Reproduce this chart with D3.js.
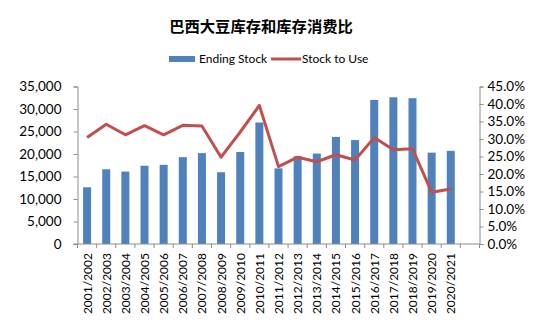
<!DOCTYPE html>
<html>
<head>
<meta charset="utf-8">
<script src="https://cdn.jsdelivr.net/npm/d3@7/dist/d3.min.js"></script>
<style>
  html, body { margin: 0; padding: 0; background: #fff; }
  svg { display: block; }
  .tick text { font-family: Lato, "Open Sans", sans-serif; fill: #000; }
</style>
</head>
<body>
<svg id="chart" width="550" height="324"></svg>
<script>
// Brazil soybean ending stocks (thousand tonnes) and stock-to-use ratio
const seasons = [
  "2001/2002", "2002/2003", "2003/2004", "2004/2005", "2005/2006",
  "2006/2007", "2007/2008", "2008/2009", "2009/2010", "2010/2011",
  "2011/2012", "2012/2013", "2013/2014", "2014/2015", "2015/2016",
  "2016/2017", "2017/2018", "2018/2019", "2019/2020", "2020/2021"
];
const endingStock = [
  12600, 16600, 16100, 17400, 17600, 19300, 20200, 15950, 20450, 27000,
  16800, 19500, 20100, 23800, 23100, 32000, 32600, 32400, 20300, 20700
];
const stockToUse = [
  30.4, 34.2, 31.2, 33.8, 31.2, 33.9, 33.7, 24.8, 32.0, 39.6,
  22.1, 24.8, 23.5, 25.5, 24.0, 30.4, 26.9, 27.2, 14.8, 15.7
];
const leftTicks = [0, 5000, 10000, 15000, 20000, 25000, 30000, 35000];
const rightTicks = [0, 5, 10, 15, 20, 25, 30, 35, 40, 45];

const svg = d3.select("#chart");
const m = { left: 77.5, right: 479.5, top: 86.5, bottom: 244 };
const axisColor = "#8c8c8c";
const barColor = "#4f81bd";
const lineColor = "#c0504d";

// one spare slot at the end of the category axis
const x = d3.scaleBand()
  .domain(seasons.concat([""]))
  .range([m.left, m.right])
  .paddingInner(0)
  .paddingOuter(0);

const yL = d3.scaleLinear().domain([0, 35000]).range([m.bottom, m.top]);
const yR = d3.scaleLinear().domain([0, 45]).range([m.bottom, m.top]);

// title
svg.append("text")
  .attr("x", 261).attr("y", 32)
  .attr("text-anchor", "middle")
  .attr("font-family", "'Noto Sans CJK SC', sans-serif")
  .attr("font-weight", "bold")
  .attr("font-size", 15.3)
  .text("巴西大豆库存和库存消费比");

// legend
const lg = svg.append("g").attr("font-family", "Lato, sans-serif").attr("font-size", 12);
lg.append("rect").attr("x", 169).attr("y", 56).attr("width", 26).attr("height", 6).attr("fill", barColor);
lg.append("text").attr("x", 199).attr("y", 63).text("Ending Stock");
lg.append("line").attr("x1", 271).attr("x2", 301).attr("y1", 59).attr("y2", 59)
  .attr("stroke", lineColor).attr("stroke-width", 3);
lg.append("text").attr("x", 302).attr("y", 63).text("Stock to Use");

// bars
const barW = 8;
svg.append("g").selectAll("rect")
  .data(seasons)
  .join("rect")
  .attr("x", (d) => x(d) + x.bandwidth() / 2 - barW / 2)
  .attr("width", barW)
  .attr("y", (d, i) => yL(endingStock[i]))
  .attr("height", (d, i) => m.bottom - yL(endingStock[i]))
  .attr("fill", barColor);

// left axis
const gl = svg.append("g")
  .attr("transform", `translate(${m.left},0)`)
  .call(d3.axisLeft(yL).tickValues(leftTicks).tickSize(4).tickPadding(12)
    .tickFormat(d3.format(",")));
gl.selectAll("text").attr("font-size", 13.5);

// right axis
const gr = svg.append("g")
  .attr("transform", `translate(${m.right},0)`)
  .call(d3.axisRight(yR).tickValues(rightTicks).tickSize(4).tickPadding(4)
    .tickFormat((d) => d.toFixed(1) + "%"));
gr.selectAll("text").attr("font-size", 13.5);

// category axis: ticks at band boundaries
const gx = svg.append("g").attr("transform", `translate(0,${m.bottom})`);
gx.append("line").attr("x1", m.left - 4).attr("x2", m.right).attr("y1", 0).attr("y2", 0)
  .attr("stroke", axisColor);
gx.selectAll("line.b")
  .data(x.domain().concat(["end"]))
  .join("line")
  .attr("class", "b")
  .attr("x1", (d, i) => m.left + i * x.bandwidth())
  .attr("x2", (d, i) => m.left + i * x.bandwidth())
  .attr("y1", 0).attr("y2", 4)
  .attr("stroke", axisColor);
gx.selectAll("text.lab")
  .data(seasons)
  .join("text")
  .attr("class", "lab")
  .attr("font-family", "Lato, sans-serif")
  .attr("font-size", 12)
  .attr("text-anchor", "end")
  .attr("transform", (d) => `translate(${x(d) + x.bandwidth() / 2 + 4.5},9) rotate(-90)`)
  .text((d) => d);

[gl, gr].forEach((g) => {
  g.select(".domain").attr("stroke", axisColor);
  g.selectAll(".tick line").attr("stroke", axisColor);
});

// stock-to-use line
const line = d3.line()
  .x((d, i) => x(seasons[i]) + x.bandwidth() / 2)
  .y((d) => yR(d));
svg.append("path")
  .datum(stockToUse)
  .attr("d", line)
  .attr("fill", "none")
  .attr("stroke", lineColor)
  .attr("stroke-width", 3)
  .attr("stroke-linejoin", "round");
</script>
</body>
</html>
